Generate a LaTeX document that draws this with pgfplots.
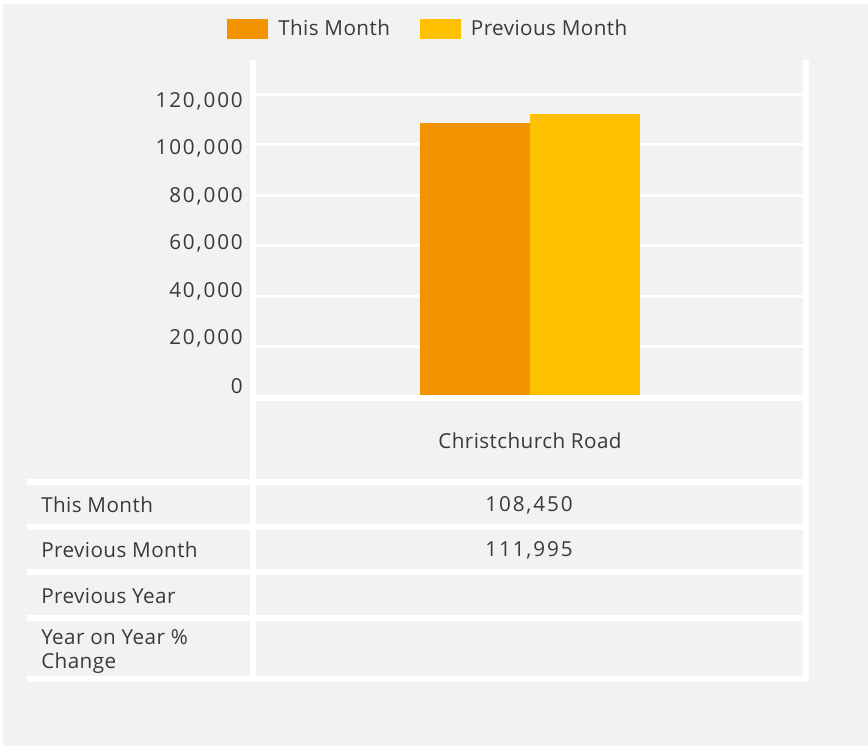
\documentclass[border=0pt]{standalone}
\usepackage{fontspec}
\setmainfont{Open Sans}[LetterSpace=2]
\newfontfamily\numfont{Open Sans}[LetterSpace=9]
\usepackage{pgfplots}
\pgfplotsset{compat=1.18}
\definecolor{bg}{HTML}{F2F2F2}
\definecolor{orng}{HTML}{F29400}
\definecolor{yell}{HTML}{FFC000}
\definecolor{txt}{HTML}{3A3A3A}
\begin{document}
\begin{tikzpicture}[font=\fontsize{15.5}{19}\selectfont]
\begin{scope}[x=0.75pt,y=-0.75pt]
\fill[white] (0,0) rectangle (868,746);
\fill[bg] (3,4) rectangle (868,746);
\end{scope}
\begin{axis}[
  at={(191.25pt,-297.75pt)}, anchor=south west,
  width=412.5pt, height=252.75pt, scale only axis,
  xmin=-2.5, xmax=2.5, ymin=0, ymax=133520,
  ybar=0pt, bar width=82.5pt,
  axis line style={draw=none},
  major tick length=0pt,
  xtick={0}, xticklabels={Christchurch Road},
  xticklabel style={anchor=center, inner sep=0pt, yshift=-33pt, text=txt},
  ytick={0,20000,40000,60000,80000,100000,120000},
  yticklabels={0,{20,000},{40,000},{60,000},{80,000},{100,000},{120,000}},
  scaled y ticks=false,
  yticklabel style={anchor=east, inner sep=0pt, xshift=-9pt, yshift={(8.25-2.25*\ticknum)*1pt}, text=txt, font=\fontsize{15.5}{19}\selectfont\numfont},
  ymajorgrids, grid style={white, line width=2.25pt},
  legend style={at={(-0.0509,1.092)}, anchor=west, legend columns=2, draw=none, fill=none, inner sep=0pt,
    nodes={inner sep=0pt, text=txt},
    /tikz/every odd column/.append style={column sep=7.5pt},
    /tikz/every even column/.append style={column sep=22.5pt}},
  legend image code/.code={\fill[#1] (0pt,-7.5pt) rectangle (30.75pt,7.5pt);},
]
\addplot[fill=orng, draw=none] coordinates {(0,108450)};
\addplot[fill=yell, draw=none] coordinates {(0,111995)};
\legend{This Month, Previous Month}
\end{axis}
\begin{scope}[x=0.75pt,y=-0.75pt]
\begin{scope}[white, line width=4.5pt]
\draw (255,398) -- (805,398);
\draw (253,60) -- (253,679);
\draw (805.5,60) -- (805.5,679);
\foreach \yy in {482,527,572,618,679} \draw (27,\yy) -- (808,\yy);
\end{scope}
\begin{scope}[text=txt]
\node[anchor=west, inner sep=0pt] at (41,505) {This Month};
\node[anchor=west, inner sep=0pt] at (41,550) {Previous Month};
\node[anchor=west, inner sep=0pt] at (41,596) {Previous Year};
\node[anchor=west, inner sep=0pt] at (41,637) {Year on Year \%};
\node[anchor=west, inner sep=0pt] at (41,663) {Change};
\node[inner sep=0pt] at (529,505) {\numfont 108,450};
\node[inner sep=0pt] at (529,550) {\numfont 111,995};
\end{scope}
\end{scope}
\end{tikzpicture}
\end{document}
